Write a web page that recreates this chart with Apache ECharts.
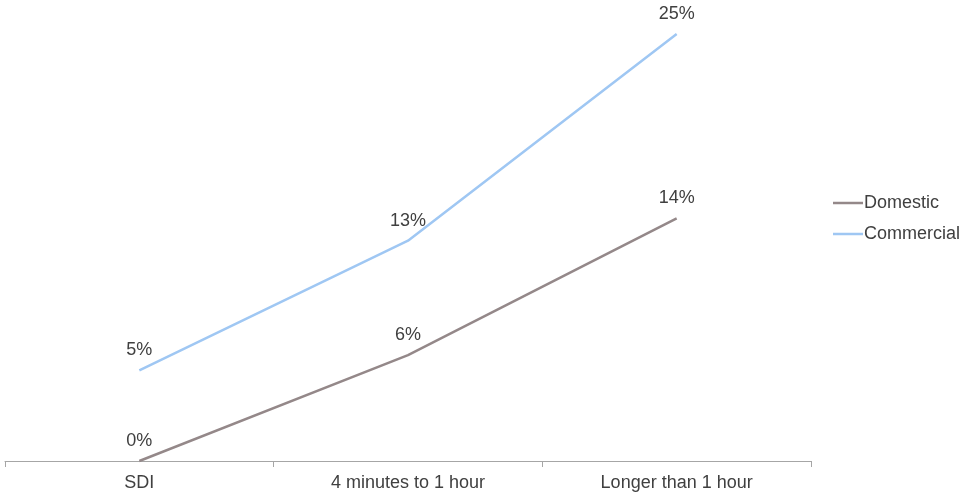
<!DOCTYPE html>
<html>
<head>
<meta charset="utf-8">
<script src="https://cdn.jsdelivr.net/npm/echarts@6/dist/echarts.min.js"></script>
<style>html,body{margin:0;padding:0;background:#fff}#c{width:974px;height:493px}</style>
</head>
<body>
<div id="c"></div>
<script>
const categories = ['SDI', '4 minutes to 1 hour', 'Longer than 1 hour'];
const domestic = [0, 6.2, 14.2];
const commercial = [5.3, 12.9, 25];

const chart = echarts.init(document.getElementById('c'), null, {renderer: 'canvas'});
const font = 'Liberation Sans, Arial, sans-serif';
const lbl = {
  show: true, position: 'top', distance: 11, fontSize: 18, fontFamily: font, color: '#404040',
  formatter: p => Math.round(p.value) + '%'
};
chart.setOption({
  animation: false,
  grid: {left: 5, right: 163, top: 34, bottom: 32, containLabel: false},
  legend: {
    orient: 'vertical', left: 828, top: 189, icon: 'rect', itemWidth: 30, itemHeight: 2.5, itemGap: 13,
    textStyle: {fontSize: 18, fontFamily: font, color: '#404040', padding: [0, 0, 0, -4]},
    data: ['Domestic', 'Commercial']
  },
  xAxis: {
    type: 'category', data: categories, boundaryGap: true,
    axisLine: {lineStyle: {color: '#a6a6a6', width: 1}},
    axisTick: {show: true, length: 6, lineStyle: {color: '#a6a6a6'}},
    axisLabel: {fontSize: 18, fontFamily: font, color: '#404040', margin: 13}
  },
  yAxis: {
    type: 'value', min: 0, max: 25, show: false, splitLine: {show: false}
  },
  series: [
    {name: 'Domestic', type: 'line', data: domestic, symbol: 'circle', symbolSize: 0.1, showSymbol: true,
     color: '#948889', clip: false,
     lineStyle: {width: 2.5, color: '#948889'}, label: lbl},
    {name: 'Commercial', type: 'line', data: commercial, symbol: 'circle', symbolSize: 0.1, showSymbol: true,
     color: '#9fc7f3', clip: false,
     lineStyle: {width: 2.5, color: '#9fc7f3'}, label: lbl}
  ]
});
</script>
</body>
</html>
